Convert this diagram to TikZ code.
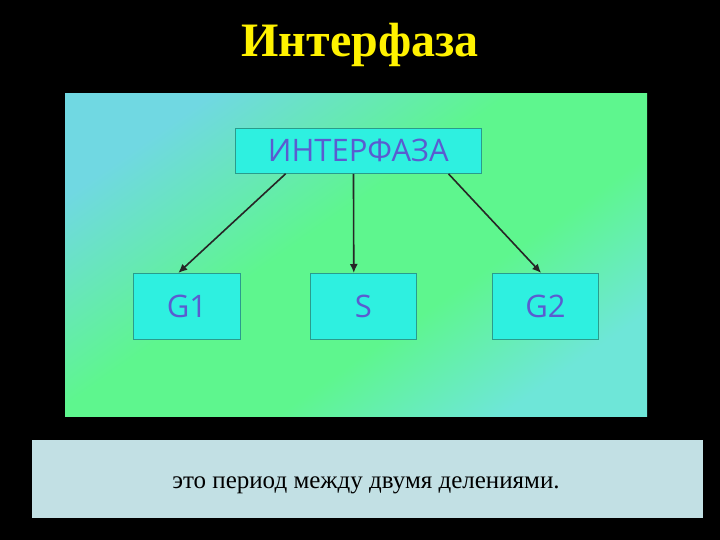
\documentclass[tikz,border=0pt]{standalone}
\usepackage{fontspec}
\setmainfont{Liberation Serif}
\newfontfamily\boxfont{Open Sans}
\usetikzlibrary{calc,arrows.meta}
\definecolor{tl}{HTML}{70D8E2}
\definecolor{mid}{HTML}{5EF68E}
\definecolor{br}{HTML}{6EE6D8}
\definecolor{boxfill}{HTML}{2EF0E0}
\definecolor{boxline}{HTML}{2A9C8C}
\definecolor{boxtext}{HTML}{5A5CD0}
\definecolor{lower}{HTML}{C2E0E4}
\pgfdeclarehorizontalshading{panelshade}{100bp}{color(0bp)=(tl); color(25bp)=(tl); color(45bp)=(mid); color(60bp)=(mid); color(75bp)=(br); color(100bp)=(br)}
\tikzset{
  bx/.style={draw=boxline, line width=0.8pt, fill=boxfill, text=boxtext, font=\boxfont\fontsize{31}{34}\selectfont, anchor=north west, inner sep=0pt},
  arr/.style={draw=black!85, line width=1.6pt, -{Latex[length=9pt,width=8pt]}}
}
\begin{document}
\begin{tikzpicture}[x=1pt,y=-1pt]
\fill[black] (0,0) rectangle (720,540);
\useasboundingbox (0,0) rectangle (720,540);
\node[text=yellow, font=\bfseries\fontsize{48}{52}\selectfont] (title) at (360,45) {Интерфаза};
\shade[shading=panelshade, shading angle=-55] (65,94) rectangle (647,416);
\node[bx, minimum width=246pt, minimum height=45pt] (top) at (235,128) {ИНТЕРФАЗА};
\node[bx, minimum width=107pt, minimum height=66pt] (g1) at (133,273) {G1};
\node[bx, minimum width=106pt, minimum height=66pt] (s) at (310,273) {S};
\node[bx, minimum width=106pt, minimum height=66pt] (g2) at (492,273) {G2};
\draw[arr] ($(top.south west)!0.205!(top.south east)$) -- ($(g1.north west)!0.42!(g1.north east)$);
\draw[arr] ($(top.south west)!0.48!(top.south east)$) -- ($(s.north west)!0.41!(s.north east)$);
\draw[arr] ($(top.south west)!0.865!(top.south east)$) -- ($(g2.north west)!0.46!(g2.north east)$);
\fill[lower] (32,440) rectangle (703,518);
\node[font=\fontsize{25}{28}\selectfont, text=black] (txt) at (366,485) {это период между двумя делениями.};
\end{tikzpicture}
\end{document}
